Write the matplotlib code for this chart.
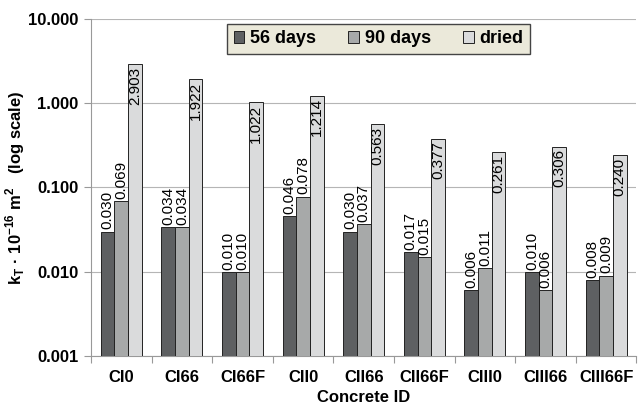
import matplotlib
matplotlib.use("Agg")
import matplotlib.pyplot as plt
import numpy as np

plt.rcParams["font.family"] = ["Liberation Sans", "DejaVu Sans"]

# ── Data ────────────────────────────────────────────────────────────────────
concretes = ["CI0", "CI66", "CI66F", "CII0", "CII66", "CII66F", "CIII0", "CIII66", "CIII66F"]
kt_56d = [0.030, 0.034, 0.010, 0.046, 0.030, 0.017, 0.006, 0.010, 0.008]
kt_90d = [0.069, 0.034, 0.010, 0.078, 0.037, 0.015, 0.011, 0.006, 0.009]
kt_dried = [2.903, 1.922, 1.022, 1.214, 0.563, 0.377, 0.261, 0.306, 0.240]
series_names = ["56 days", "90 days", "dried"]

colors = ["#5e6062", "#a7a9a9", "#dadbdc"]

fig = plt.figure(figsize=(6.38, 4.11), dpi=100)
ax = fig.add_axes([0.1426, 0.1338, 0.855, 0.82])

x = np.arange(len(concretes))
w = 0.225
series = [kt_56d, kt_90d, kt_dried]
for k, (vals, c, name) in enumerate(zip(series, colors, series_names)):
    pos = x + (k - 1) * w
    ax.bar(pos, vals, width=w, color=c, edgecolor="#222222", linewidth=0.7,
           label=name, zorder=3)
    for xi, v in zip(pos, vals):
        if k == 2:
            ax.text(xi, v / 1.06, f"{v:.3f}", rotation=90, ha="center", va="top",
                    fontsize=11, zorder=4)
        else:
            ax.text(xi, v * 1.06, f"{v:.3f}", rotation=90, ha="center", va="bottom",
                    fontsize=11, zorder=4)

ax.set_yscale("log")
ax.set_ylim(0.001, 10)
ax.set_xlim(-0.5, len(concretes) - 0.5)
ax.set_yticks([0.001, 0.01, 0.1, 1, 10])
ax.set_yticklabels(["0.001", "0.010", "0.100", "1.000", "10.000"],
                   fontsize=12, fontweight="bold")
ax.yaxis.set_minor_locator(matplotlib.ticker.NullLocator())
ax.grid(axis="y", color="#b5b5b5", linewidth=0.8, zorder=0)

# group separators as x ticks, category names centred between them
ax.set_xticks(np.arange(len(concretes) + 1) - 0.5)
ax.set_xticklabels([])
ax.set_xticks(x, minor=True)
ax.set_xticklabels(concretes, minor=True, fontsize=12, fontweight="bold")
ax.tick_params(axis="x", which="major", length=5, color="#999999")
ax.tick_params(axis="x", which="minor", length=0, pad=10)
ax.tick_params(axis="y", length=5, color="#999999", pad=4)

for s in ["top", "right"]:
    ax.spines[s].set_visible(False)
for s in ["left", "bottom"]:
    ax.spines[s].set_color("#999999")

ax.set_xlabel("Concrete ID", fontsize=12, fontweight="bold", labelpad=4)
ax.set_ylabel(r"k$_\mathregular{T}$ · 10$^\mathregular{-16}$ m$^\mathregular{2}$   (log scale)",
              fontsize=12, fontweight="bold", labelpad=1)

leg = ax.legend(loc="upper center", bbox_to_anchor=(0.527, 0.985), ncol=3,
                frameon=True, fancybox=False, borderaxespad=0,
                prop={"weight": "bold", "size": 13},
                handlelength=0.6, handleheight=0.6, handletextpad=0.3,
                columnspacing=1.8, borderpad=0.35)
leg.get_frame().set_facecolor("#ebe9da")
leg.get_frame().set_edgecolor("#444444")
leg.get_frame().set_alpha(1)

fig.savefig("out.png", dpi=100)
